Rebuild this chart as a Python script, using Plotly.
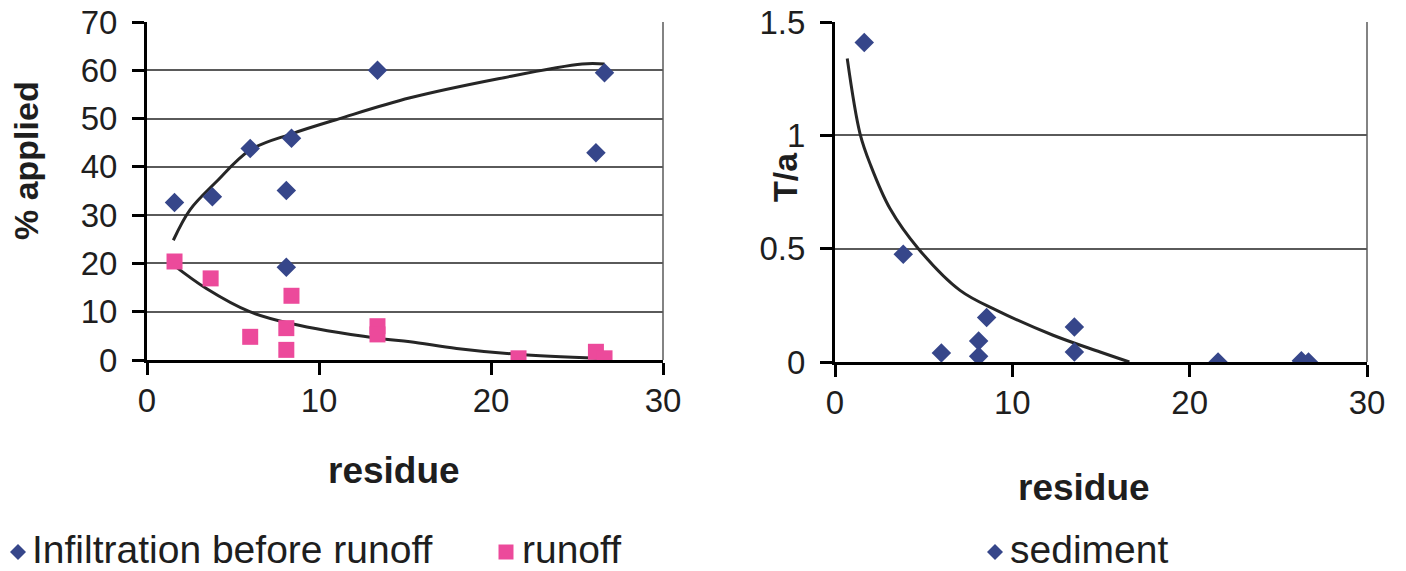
import plotly.graph_objects as go

# ---------------- data ----------------
residue_inf = [1.6, 3.8, 6.0, 8.1, 8.1, 8.4, 13.4, 26.1, 26.6]
infiltration = [32.6, 33.8, 43.8, 35.1, 19.2, 45.9, 60.0, 42.9, 59.5]

residue_run = [1.6, 3.7, 6.0, 8.1, 8.1, 8.4, 13.4, 13.4, 21.6, 26.1, 26.6]
runoff = [20.4, 16.9, 4.8, 6.6, 2.1, 13.3, 7.0, 5.3, 0.35, 1.7, 0.35]

residue_sed = [1.65, 3.85, 6.0, 8.1, 8.1, 8.55, 13.5, 13.5, 21.6, 26.3, 26.7]
sediment = [1.41, 0.475, 0.04, 0.093, 0.025, 0.196, 0.154, 0.044, 0.0, 0.005, 0.0]

# trend lines
inf_trend_x = [1.53, 2.5, 4.0, 6.0, 8.45, 11.2, 15.3, 20.5, 25.3, 26.6]
inf_trend_y = [24.8, 31.1, 36.8, 43.5, 46.9, 50.0, 54.3, 58.3, 61.3, 61.3]

run_trend_x = [1.53, 3.45, 5.97, 8.28, 13.38, 15.3, 18.0, 21.5, 26.3]
run_trend_y = [19.7, 14.8, 10.0, 7.6, 4.5, 3.8, 2.4, 1.2, 0.35]

sed_trend_x = [0.69, 1.41, 2.0, 3.1, 4.7, 7.05, 9.12, 12.3, 14.95, 16.6]
sed_trend_y = [1.339, 1.008, 0.87, 0.677, 0.50, 0.316, 0.228, 0.118, 0.044, 0.0]

x_ticks = [0, 10, 20, 30]
y1_ticks = [0, 10, 20, 30, 40, 50, 60, 70]
y2_ticks = [0, 0.5, 1, 1.5]
y2_labels = ["0", "0.5", "1", "1.5"]

legend_labels = ["Infiltration before runoff", "runoff", "sediment"]

# ---------------- styles ----------------
W, H = 1406, 571
NAVY = "#36468a"
PINK = "#ec4a9b"
LINE = "#262626"
GRID = "#5a5a5a"
TEXT = "#1e1e1e"
FONT = "Liberation Sans, Arial, sans-serif"


def px(x):
    return x / W


def py(y):
    return 1 - y / H


fig = go.Figure()

line_style = dict(color=LINE, width=3, shape="spline")
fig.add_trace(go.Scatter(x=inf_trend_x, y=inf_trend_y, mode="lines", line=line_style,
                         showlegend=False, hoverinfo="skip", xaxis="x", yaxis="y"))
fig.add_trace(go.Scatter(x=run_trend_x, y=run_trend_y, mode="lines", line=line_style,
                         showlegend=False, hoverinfo="skip", xaxis="x", yaxis="y"))
fig.add_trace(go.Scatter(x=residue_inf, y=infiltration, mode="markers", name=legend_labels[0],
                         marker=dict(symbol="diamond", size=15, color=NAVY, line=dict(width=0)),
                         xaxis="x", yaxis="y", showlegend=False))
fig.add_trace(go.Scatter(x=residue_run, y=runoff, mode="markers", name=legend_labels[1],
                         marker=dict(symbol="square", size=16, color=PINK, line=dict(width=0)),
                         xaxis="x", yaxis="y", showlegend=False))

fig.add_trace(go.Scatter(x=sed_trend_x, y=sed_trend_y, mode="lines", line=line_style,
                         showlegend=False, hoverinfo="skip", xaxis="x2", yaxis="y2"))
fig.add_trace(go.Scatter(x=residue_sed, y=sediment, mode="markers", name=legend_labels[2],
                         marker=dict(symbol="diamond", size=15, color=NAVY, line=dict(width=0)),
                         xaxis="x2", yaxis="y2", showlegend=False))

axis_common = dict(showline=True, linecolor="black", linewidth=3, ticks="outside", ticklen=12, tickwidth=3,
                   tickcolor="black", zeroline=False, automargin=False)

fig.update_layout(
    width=W, height=H,
    margin=dict(l=0, r=0, t=0, b=0, pad=0),
    paper_bgcolor="white", plot_bgcolor="white",
    font=dict(family=FONT, color=TEXT),
    showlegend=False,
    xaxis=dict(domain=[px(147), px(663)], range=[0, 30], tickvals=x_ticks, showgrid=False,
               tickfont=dict(size=33), ticklabelstandoff=-3, anchor="y", **axis_common),
    yaxis=dict(domain=[py(360), py(22)], range=[0, 70], tickvals=y1_ticks, showgrid=True,
               gridcolor=GRID, gridwidth=1.5, tickfont=dict(size=33), ticklabelstandoff=8, anchor="x",
               **axis_common),
    xaxis2=dict(domain=[px(835), px(1367)], range=[0, 30], tickvals=x_ticks, showgrid=False,
                tickfont=dict(size=33), ticklabelstandoff=-3, anchor="y2", **axis_common),
    yaxis2=dict(domain=[py(362), py(22)], range=[0, 1.5], tickvals=y2_ticks, ticktext=y2_labels,
                showgrid=True, gridcolor=GRID, gridwidth=1.5, tickfont=dict(size=33), ticklabelstandoff=8,
                anchor="x2", **axis_common),
)

# right-hand plot-area borders (thin)
for xr, yr in (("x domain", "y domain"), ("x2 domain", "y2 domain")):
    fig.add_shape(type="line", xref=xr, yref=yr, x0=1, x1=1, y0=0, y1=1,
                  line=dict(color=GRID, width=1.5))

# axis titles
title_font = dict(family=FONT, size=37, color=TEXT, weight="bold")
fig.add_annotation(text="residue", x=px(394), y=py(470), xref="paper", yref="paper", showarrow=False,
                   font=title_font, xanchor="center", yanchor="middle")
fig.add_annotation(text="residue", x=px(1084), y=py(487), xref="paper", yref="paper", showarrow=False,
                   font=title_font, xanchor="center", yanchor="middle")
fig.add_annotation(text="% applied", x=px(26), y=py(161), xref="paper", yref="paper", showarrow=False,
                   font=dict(family=FONT, size=34, color=TEXT, weight="bold"), textangle=-90,
                   xanchor="center", yanchor="middle")
fig.add_annotation(text="T/a", x=px(785), y=py(177), xref="paper", yref="paper", showarrow=False,
                   font=dict(family=FONT, size=34, color=TEXT, weight="bold"), textangle=-90,
                   xanchor="center", yanchor="middle")

# legend (symbols + labels) along the bottom
LEG_Y = 552
leg_font = dict(family=FONT, size=39, color=TEXT)


def diamond(cx, cy, r, color):
    path = (f"M {px(cx - r)},{py(cy)} L {px(cx)},{py(cy - r)} "
            f"L {px(cx + r)},{py(cy)} L {px(cx)},{py(cy + r)} Z")
    fig.add_shape(type="path", xref="paper", yref="paper", path=path,
                  fillcolor=color, line=dict(width=0))


def square(cx, cy, r, color):
    fig.add_shape(type="rect", xref="paper", yref="paper", x0=px(cx - r), x1=px(cx + r),
                  y0=py(cy + r), y1=py(cy - r), fillcolor=color, line=dict(width=0))


legend_items = [(18, "diamond", NAVY, 30, legend_labels[0]),
                (506, "square", PINK, 520, legend_labels[1]),
                (995, "diamond", NAVY, 1008, legend_labels[2])]
for cx, sym, col, tx, label in legend_items:
    if sym == "diamond":
        diamond(cx, LEG_Y, 8, col)
    else:
        square(cx, LEG_Y, 7.5, col)
    fig.add_annotation(text=label, x=px(tx), y=0, xref="paper", yref="paper", showarrow=False,
                       font=leg_font, xanchor="left", yanchor="bottom", yshift=-2)

# remove the browser's default page margin so the figure starts at the window's corner
fig.write_html("out.html", config={"displayModeBar": False},
               post_script="document.body.style.margin='0px';")
